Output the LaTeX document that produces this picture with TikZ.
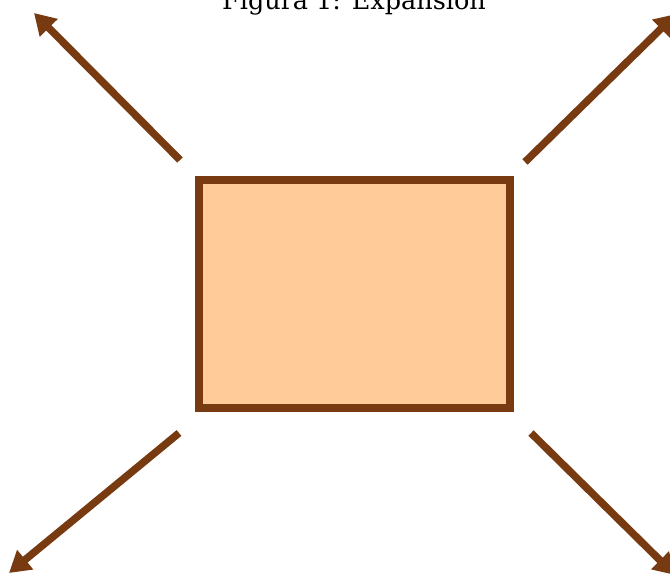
\documentclass[tikz,border=0pt]{standalone}
\usepackage{fontspec}
\setmainfont{DejaVu Serif}
\usetikzlibrary{arrows.meta}
\definecolor{edgebrown}{RGB}{120,58,16}
\definecolor{boxfill}{RGB}{254,203,153}
\tikzset{
  expbox/.style={draw=edgebrown, fill=boxfill, line width=8pt, minimum width=311pt, minimum height=228pt, inner sep=0pt, outer sep=0pt},
  exparrow/.style={draw=edgebrown, line width=7.5pt, -{Triangle[length=21pt, width=24pt]}},
}
\begin{document}
\begin{tikzpicture}[x=1pt, y=-1pt]
\useasboundingbox (0,0) rectangle (670,574);
\node[font=\fontsize{25.5}{28}\selectfont, inner sep=0pt, anchor=base] (title) at (354,9) {Figura 1: Expansión};
\node[expbox] (box) at (354.5,294) {};
\coordinate (tl0) at (180,160);
\coordinate (tl1) at (34,13);
\coordinate (tr0) at (525,162);
\coordinate (tr1) at (676,14);
\coordinate (bl0) at (179,433);
\coordinate (bl1) at (9,573);
\coordinate (br0) at (531,433);
\coordinate (br1) at (675,575);
\draw[exparrow] (tl0) -- (tl1);
\draw[exparrow] (tr0) -- (tr1);
\draw[exparrow] (bl0) -- (bl1);
\draw[exparrow] (br0) -- (br1);
\end{tikzpicture}
\end{document}
